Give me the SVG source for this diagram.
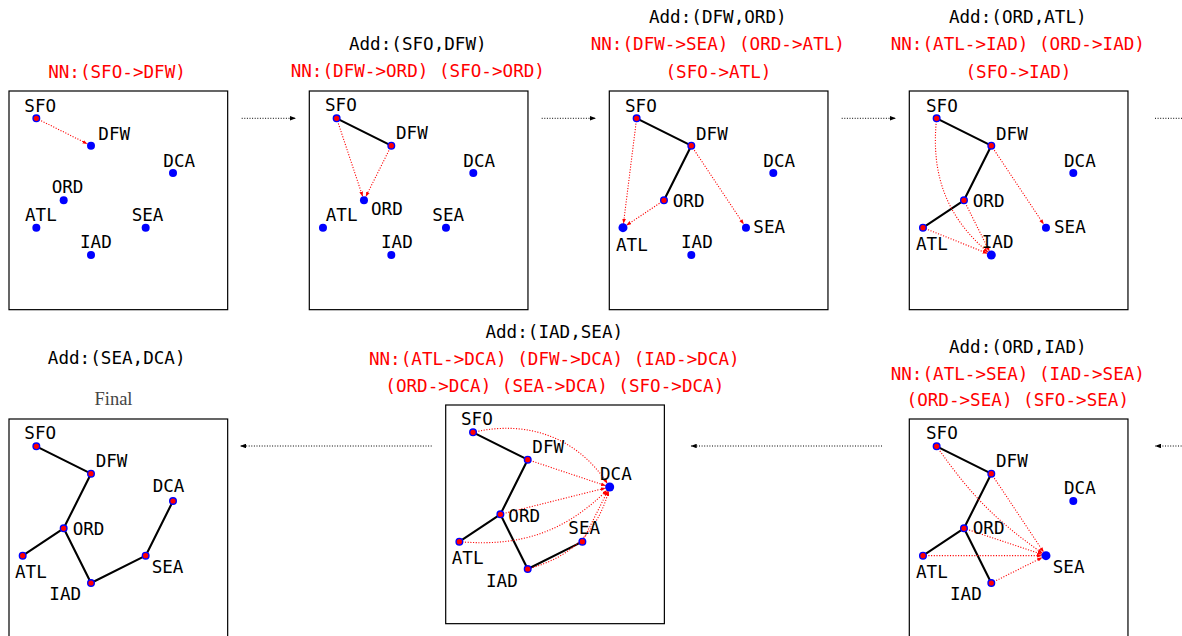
<svg xmlns="http://www.w3.org/2000/svg" width="1182" height="636" viewBox="0 0 1182 636">
<style>
.bg{fill:#fff}
.box{fill:none;stroke:#000;stroke-width:1.2}
.t{font-family:"DejaVu Sans Mono","Liberation Mono",monospace;font-size:17.6px;text-anchor:middle;fill:#000}
.r{fill:#ff0000}
.fin{font-family:"Liberation Serif","DejaVu Serif",serif;font-size:18.5px;fill:#444;text-anchor:middle}
.lb{font-family:"DejaVu Sans Mono","Liberation Mono",monospace;font-size:17.6px;fill:#000}
.u{fill:#0000ff}
.v{fill:#ff0000;stroke:#0000ff;stroke-width:1.4}
.tree{fill:none;stroke:#000;stroke-width:2.1;stroke-linejoin:round;stroke-linecap:round}
.nn{fill:none;stroke:#ff0000;stroke-width:1.1;stroke-dasharray:1.1 1.6;marker-end:url(#ah-r)}
.flow{fill:none;stroke:#000;stroke-width:1;stroke-dasharray:1 1.6;marker-end:url(#ah-k)}
</style>
<defs>
<marker id="ah-r" viewBox="0 0 8 6" markerWidth="5" markerHeight="4" refX="8" refY="3" orient="auto" markerUnits="userSpaceOnUse"><path d="M0,0 L8,3 L0,6 z" fill="#ff0000"/></marker>
<marker id="ah-k" viewBox="0 0 8 6" markerWidth="7" markerHeight="4.5" refX="8" refY="3" orient="auto" markerUnits="userSpaceOnUse"><path d="M0,0 L8,3 L0,6 z" fill="#000"/></marker>
</defs>
<rect class="bg" x="0" y="0" width="1182" height="636"/>

<g id="panels">
  <rect class="box" x="9" y="91" width="218.67" height="218.67"/>
  <text class="t r" x="117" y="77.5">NN:(SFO-&gt;DFW)</text>

  <rect class="box" x="309.3" y="91" width="218.67" height="218.67"/>
  <text class="t" x="417.8" y="49.5">Add:(SFO,DFW)</text>
  <text class="t r" x="417.8" y="77">NN:(DFW-&gt;ORD) (SFO-&gt;ORD)</text>

  <rect class="box" x="609.3" y="91" width="218.67" height="218.67"/>
  <text class="t" x="717.8" y="22.5">Add:(DFW,ORD)</text>
  <text class="t r" x="717.8" y="50">NN:(DFW-&gt;SEA) (ORD-&gt;ATL)</text>
  <text class="t r" x="718.5" y="77.5">(SFO-&gt;ATL)</text>

  <rect class="box" x="909.3" y="91" width="218.67" height="218.67"/>
  <text class="t" x="1017.8" y="22.5">Add:(ORD,ATL)</text>
  <text class="t r" x="1017.8" y="50">NN:(ATL-&gt;IAD) (ORD-&gt;IAD)</text>
  <text class="t r" x="1018.5" y="77.5">(SFO-&gt;IAD)</text>

  <rect class="box" x="909.3" y="419" width="218.67" height="218.67"/>
  <text class="t" x="1017.8" y="352.7">Add:(ORD,IAD)</text>
  <text class="t r" x="1017.8" y="379.5">NN:(ATL-&gt;SEA) (IAD-&gt;SEA)</text>
  <text class="t r" x="1017.8" y="406.3">(ORD-&gt;SEA) (SFO-&gt;SEA)</text>

  <rect class="box" x="445.7" y="405" width="218.67" height="218.67"/>
  <text class="t" x="554.3" y="337.7">Add:(IAD,SEA)</text>
  <text class="t r" x="554.3" y="365">NN:(ATL-&gt;DCA) (DFW-&gt;DCA) (IAD-&gt;DCA)</text>
  <text class="t r" x="554.8" y="392.3">(ORD-&gt;DCA) (SEA-&gt;DCA) (SFO-&gt;DCA)</text>

  <rect class="box" x="9" y="419" width="218.67" height="218.67"/>
  <text class="t" x="116.7" y="364.3">Add:(SEA,DCA)</text>
  <text class="fin" x="113.5" y="405">Final</text>
</g>

<g id="connectors">
  <g id="flow-arrows">
    <path class="flow" d="M241.7,118.3 L296,118.3"/>
    <path class="flow" d="M541.7,118.3 L596,118.3"/>
    <path class="flow" d="M841.7,118.3 L896,118.3"/>
    <path class="flow" d="M1155,118.3 L1205,118.3"/>
    <path class="flow" d="M1205,446 L1155,446"/>
    <path class="flow" d="M882,446 L690.7,446"/>
    <path class="flow" d="M431.7,446 L240,446"/>
  </g>
  <g id="p1-edges" transform="translate(9,91)">
    <path class="nn" d="M27.33,27.33 L78.42,52.88"/>
  </g>
  <g id="p2-edges" transform="translate(309.3,91)">
    <path class="tree" d="M27.33,27.33 L82,54.67"/>
    <path class="nn" d="M82,54.67 L56.46,105.75"/>
    <path class="nn" d="M27.33,27.33 L53.4,105.54"/>
  </g>
  <g id="p3-edges" transform="translate(609.3,91)">
    <path class="tree" d="M27.33,27.33 L82,54.67 L54.67,109.33"/>
    <path class="nn" d="M82,54.67 L134.45,133.34"/>
    <path class="nn" d="M54.67,109.33 L17,134.45"/>
    <path class="nn" d="M27.33,27.33 L14.17,132.7"/>
  </g>
  <g id="p4-edges" transform="translate(909.3,91)">
    <path class="tree" d="M27.33,27.33 L82,54.67 L54.67,109.33 L13.67,136.67"/>
    <path class="nn" d="M82,54.67 L134.45,133.34"/>
    <path class="nn" d="M13.67,136.67 L78.29,162.51"/>
    <path class="nn" d="M54.67,109.33 L80.21,160.42"/>
    <path class="nn" d="M27.33,27.33 C21.11,84.59 38,126.8 78.94,161.42"/>
  </g>
  <g id="p5-edges" transform="translate(909.3,419)">
    <path class="tree" d="M27.33,27.33 L82,54.67 L54.67,109.33 L13.67,136.67 M54.67,109.33 L82,164"/>
    <path class="nn" d="M13.67,136.67 L132.67,136.67"/>
    <path class="nn" d="M82,164 L133.09,138.46"/>
    <path class="nn" d="M54.67,109.33 L132.88,135.4"/>
    <path class="nn" d="M27.33,27.33 C62.03,76.89 87.11,101.97 133.39,134.38"/>
    <path class="nn" d="M82,54.67 L134.45,133.34"/>
  </g>
  <g id="p6-edges" transform="translate(445.7,405)">
    <path class="tree" d="M27.33,27.33 L82,54.67 L54.67,109.33 L13.67,136.67 M54.67,109.33 L82,164 L136.67,136.67"/>
    <path class="nn" d="M13.67,136.67 C76.05,142.13 119.72,126.28 161.43,85.06"/>
    <path class="nn" d="M82,54.67 L160.21,80.74"/>
    <path class="nn" d="M82,164 C125.85,152.25 152.25,125.85 162.96,85.86"/>
    <path class="nn" d="M54.67,109.33 L160.12,82.97"/>
    <path class="nn" d="M136.67,136.67 L162.21,85.58"/>
    <path class="nn" d="M27.33,27.33 C83.41,14.17 132.46,33.8 161.81,78.65"/>
  </g>
  <g id="p7-edges" transform="translate(9,419)">
    <path class="tree" d="M27.33,27.33 L82,54.67 L54.67,109.33 L13.67,136.67 M54.67,109.33 L82,164 L136.67,136.67 L164,82"/>
  </g>
</g>

<g id="nodes">
  <g transform="translate(9,91)">
    <g id="p1-SFO"><circle class="v" cx="27.33" cy="27.33" r="3.3"/><text class="lb" x="15.3" y="20.7">SFO</text></g>
    <g id="p1-DFW"><circle class="u" cx="82" cy="54.67" r="4"/><text class="lb" x="89.3" y="49">DFW</text></g>
    <g id="p1-DCA"><circle class="u" cx="164" cy="82" r="4"/><text class="lb" x="154.3" y="76.3">DCA</text></g>
    <g id="p1-ORD"><circle class="u" cx="54.67" cy="109.33" r="4"/><text class="lb" x="42.7" y="102.3">ORD</text></g>
    <g id="p1-ATL"><circle class="u" cx="27.33" cy="136.67" r="4"/><text class="lb" x="16" y="129.7">ATL</text></g>
    <g id="p1-SEA"><circle class="u" cx="136.67" cy="136.67" r="4"/><text class="lb" x="122.7" y="129.7">SEA</text></g>
    <g id="p1-IAD"><circle class="u" cx="82" cy="164" r="4"/><text class="lb" x="71" y="157.3">IAD</text></g>
  </g>
  <g transform="translate(309.3,91)">
    <g id="p2-SFO"><circle class="v" cx="27.33" cy="27.33" r="3.3"/><text class="lb" x="15.7" y="19.5">SFO</text></g>
    <g id="p2-DFW"><circle class="v" cx="82" cy="54.67" r="3.3"/><text class="lb" x="86.7" y="48.3">DFW</text></g>
    <g id="p2-DCA"><circle class="u" cx="164" cy="82" r="4"/><text class="lb" x="154" y="75.7">DCA</text></g>
    <g id="p2-ORD"><circle class="u" cx="54.67" cy="109.33" r="4"/><text class="lb" x="61.7" y="124">ORD</text></g>
    <g id="p2-ATL"><circle class="u" cx="13.67" cy="136.67" r="4"/><text class="lb" x="16.4" y="129.7">ATL</text></g>
    <g id="p2-SEA"><circle class="u" cx="136.67" cy="136.67" r="4"/><text class="lb" x="123" y="129.7">SEA</text></g>
    <g id="p2-IAD"><circle class="u" cx="82" cy="164" r="4"/><text class="lb" x="71.7" y="157.3">IAD</text></g>
  </g>
  <g transform="translate(609.3,91)">
    <g id="p3-SFO"><circle class="v" cx="27.33" cy="27.33" r="3.3"/><text class="lb" x="15.7" y="20.7">SFO</text></g>
    <g id="p3-DFW"><circle class="v" cx="82" cy="54.67" r="3.3"/><text class="lb" x="86.7" y="49">DFW</text></g>
    <g id="p3-DCA"><circle class="u" cx="164" cy="82" r="4"/><text class="lb" x="154" y="75.7">DCA</text></g>
    <g id="p3-ORD"><circle class="v" cx="54.67" cy="109.33" r="3.3"/><text class="lb" x="63.4" y="116.3">ORD</text></g>
    <g id="p3-ATL"><circle class="u" cx="13.67" cy="136.67" r="4.5"/><text class="lb" x="6.7" y="159.7">ATL</text></g>
    <g id="p3-SEA"><circle class="u" cx="136.67" cy="136.67" r="4"/><text class="lb" x="144" y="142.3">SEA</text></g>
    <g id="p3-IAD"><circle class="u" cx="82" cy="164" r="4"/><text class="lb" x="71.7" y="157.3">IAD</text></g>
  </g>
  <g transform="translate(909.3,91)">
    <g id="p4-SFO"><circle class="v" cx="27.33" cy="27.33" r="3.3"/><text class="lb" x="16.7" y="20.7">SFO</text></g>
    <g id="p4-DFW"><circle class="v" cx="82" cy="54.67" r="3.3"/><text class="lb" x="86.7" y="49">DFW</text></g>
    <g id="p4-DCA"><circle class="u" cx="164" cy="82" r="4"/><text class="lb" x="154.7" y="75.7">DCA</text></g>
    <g id="p4-ORD"><circle class="v" cx="54.67" cy="109.33" r="3.3"/><text class="lb" x="63.4" y="116.3">ORD</text></g>
    <g id="p4-ATL"><circle class="v" cx="13.67" cy="136.67" r="3.3"/><text class="lb" x="6.7" y="159">ATL</text></g>
    <g id="p4-SEA"><circle class="u" cx="136.67" cy="136.67" r="4"/><text class="lb" x="144.7" y="141.7">SEA</text></g>
    <g id="p4-IAD"><circle class="u" cx="82" cy="164" r="4.5"/><text class="lb" x="72.4" y="157.3">IAD</text></g>
  </g>
  <g transform="translate(909.3,419)">
    <g id="p5-SFO"><circle class="v" cx="27.33" cy="27.33" r="3.3"/><text class="lb" x="16.7" y="20">SFO</text></g>
    <g id="p5-DFW"><circle class="v" cx="82" cy="54.67" r="3.3"/><text class="lb" x="86.7" y="48.3">DFW</text></g>
    <g id="p5-DCA"><circle class="u" cx="164" cy="82" r="4"/><text class="lb" x="154.7" y="75.3">DCA</text></g>
    <g id="p5-ORD"><circle class="v" cx="54.67" cy="109.33" r="3.3"/><text class="lb" x="63.4" y="115">ORD</text></g>
    <g id="p5-ATL"><circle class="v" cx="13.67" cy="136.67" r="3.3"/><text class="lb" x="6.7" y="159.3">ATL</text></g>
    <g id="p5-SEA"><circle class="u" cx="136.67" cy="136.67" r="4.5"/><text class="lb" x="143.4" y="154.3">SEA</text></g>
    <g id="p5-IAD"><circle class="v" cx="82" cy="164" r="3.3"/><text class="lb" x="40.7" y="181">IAD</text></g>
  </g>
  <g transform="translate(445.7,405)">
    <g id="p6-SFO"><circle class="v" cx="27.33" cy="27.33" r="3.3"/><text class="lb" x="15.3" y="20">SFO</text></g>
    <g id="p6-DFW"><circle class="v" cx="82" cy="54.67" r="3.3"/><text class="lb" x="86.6" y="48.3">DFW</text></g>
    <g id="p6-DCA"><circle class="u" cx="164" cy="82" r="4.5"/><text class="lb" x="154.3" y="75">DCA</text></g>
    <g id="p6-ORD"><circle class="v" cx="54.67" cy="109.33" r="3.3"/><text class="lb" x="62.6" y="116.7">ORD</text></g>
    <g id="p6-ATL"><circle class="v" cx="13.67" cy="136.67" r="3.3"/><text class="lb" x="6" y="159.3">ATL</text></g>
    <g id="p6-SEA"><circle class="v" cx="136.67" cy="136.67" r="3.3"/><text class="lb" x="122.6" y="129.3">SEA</text></g>
    <g id="p6-IAD"><circle class="v" cx="82" cy="164" r="3.3"/><text class="lb" x="40.3" y="181.7">IAD</text></g>
  </g>
  <g transform="translate(9,419)">
    <g id="p7-SFO"><circle class="v" cx="27.33" cy="27.33" r="3.3"/><text class="lb" x="15.3" y="20">SFO</text></g>
    <g id="p7-DFW"><circle class="v" cx="82" cy="54.67" r="3.3"/><text class="lb" x="86.7" y="48.3">DFW</text></g>
    <g id="p7-DCA"><circle class="v" cx="164" cy="82" r="3.3"/><text class="lb" x="143.7" y="73.3">DCA</text></g>
    <g id="p7-ORD"><circle class="v" cx="54.67" cy="109.33" r="3.3"/><text class="lb" x="63.7" y="116">ORD</text></g>
    <g id="p7-ATL"><circle class="v" cx="13.67" cy="136.67" r="3.3"/><text class="lb" x="6" y="159.3">ATL</text></g>
    <g id="p7-SEA"><circle class="v" cx="136.67" cy="136.67" r="3.3"/><text class="lb" x="142.7" y="154.3">SEA</text></g>
    <g id="p7-IAD"><circle class="v" cx="82" cy="164" r="3.3"/><text class="lb" x="40.3" y="181">IAD</text></g>
  </g>
</g>
</svg>
